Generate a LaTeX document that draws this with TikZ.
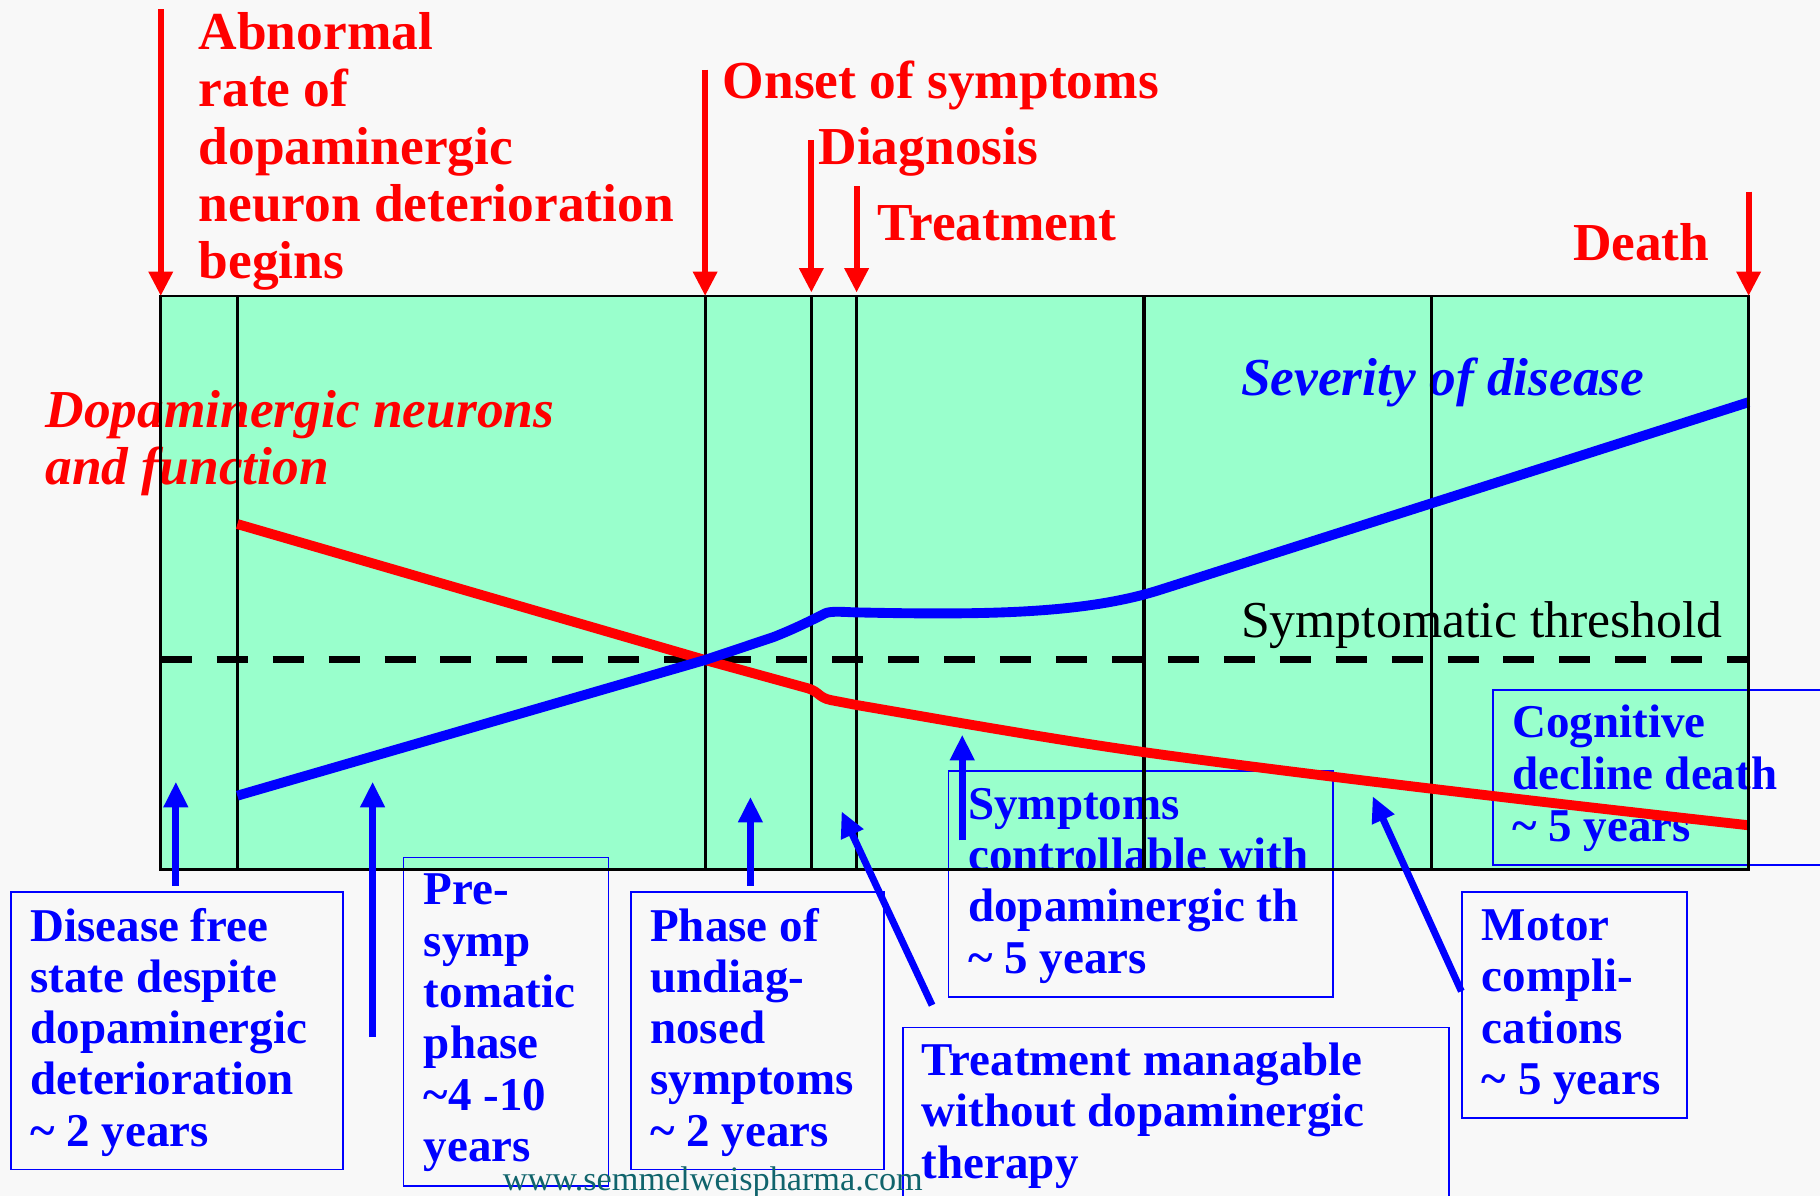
\documentclass[tikz,border=0pt]{standalone}
\usepackage{fontspec}
\setmainfont{Liberation Serif}
\usetikzlibrary{arrows.meta}
\definecolor{chartgreen}{RGB}{153,255,204}
\definecolor{wmteal}{RGB}{16,100,108}
\definecolor{pagebg}{RGB}{248,248,248}
\begin{document}
\begin{tikzpicture}[x=1pt,y=-1pt,
  redlbl/.style={text=red, font=\bfseries\fontsize{46}{49.3}\selectfont, align=left, anchor=base west, inner sep=0pt},
  bluelbl/.style={text=blue, font=\bfseries\fontsize{40.5}{44.2}\selectfont, align=left, anchor=base west, inner sep=0pt},
  bluebox/.style={draw=blue, line width=1.4pt, inner sep=0pt, anchor=north west},
  redarrow/.style={draw=red, line width=5pt, -{Triangle[width=20pt,length=21pt]}},
  bluearrow/.style={draw=blue, line width=6pt, -{Triangle[width=20pt,length=22pt]}},
  divider/.style={line width=2.8pt},
  curve/.style={line width=8.5pt}
]
\useasboundingbox[fill=pagebg] (0,0) rectangle (1568,1030);

% chart area
\fill[chartgreen] (138.5,255) rectangle (1506.5,749);

% boxes and their texts (node placed at baseline of the last line)
\node[bluebox, minimum width=286pt, minimum height=239pt] (b1) at (9,768) {};
\node[bluelbl] (t1) at (26,987.5) {Disease free\\state despite\\dopaminergic\\deterioration\\\textasciitilde\ 2 years};
\node[bluebox, minimum width=176.5pt, minimum height=283pt] (b2) at (347,738) {};
\node[bluelbl] (t2) at (365,1000.5) {Pre-\\symp\\tomatic\\phase\\\textasciitilde 4 -10\\years};
\node[bluebox, minimum width=218pt, minimum height=239pt] (b3) at (543,768) {};
\node[bluelbl] (t3) at (560,987.5) {Phase of\\undiag-\\nosed\\symptoms\\\textasciitilde\ 2 years};
\node[bluebox, minimum width=331pt, minimum height=195pt] (b4) at (816.5,663.4) {};
\node[bluelbl] (t4) at (834,838.5) {Symptoms\\controllable with\\dopaminergic th\\\textasciitilde\ 5 years};
\node[bluebox, minimum width=470.5pt, minimum height=170pt] (b5) at (777,884.6) {};
\node[bluelbl] (t5) at (794,1015) {Treatment managable\\without dopaminergic\\therapy};
\node[bluebox, minimum width=193.6pt, minimum height=194.5pt] (b6) at (1259,767.8) {};
\node[bluelbl] (t6) at (1276.5,943) {Motor\\compli-\\cations\\\textasciitilde\ 5 years};
\node[bluebox, minimum width=300pt, minimum height=150.6pt] (b7) at (1285.6,594) {};
\node[bluelbl, font=\bfseries\fontsize{40.5}{45}\selectfont] (t7) at (1302.6,725) {Cognitive\\decline death\\\textasciitilde\ 5 years};

% red labels
\node[redlbl] (abn) at (171,240) {Abnormal\\rate of\\dopaminergic\\neuron deterioration\\begins};
\node[redlbl] (onset) at (622.5,85) {Onset of symptoms};
\node[redlbl] (diag) at (705,142) {Diagnosis};
\node[redlbl] (treat) at (756,207) {Treatment};
\node[redlbl] (death) at (1355,224.5) {Death};
\node[redlbl, font=\bfseries\itshape\fontsize{46}{48.4}\selectfont] (dopa) at (39,417) {Dopaminergic neurons\\and function};
\node[redlbl, text=blue, font=\bfseries\itshape\fontsize{46}{49}\selectfont] (sev) at (1069,340.5) {Severity of disease};
\node[anchor=base west, inner sep=0pt, font=\fontsize{44.6}{48}\selectfont] (thr) at (1069,549) {Symptomatic threshold};

% dividers
\foreach \xx in {204.5,607.5,699,738,985.5,1233}
  \draw[divider] (\xx,255) -- (\xx,749);
% threshold
\draw[line width=6pt, dash pattern=on 26.7pt off 21.5pt] (138.5,567.8) -- (1506.5,567.8);

% curves
\draw[curve, red, line join=round] (204.5,451.5) -- (607.4,568.6) -- (696,593)
  .. controls (706,596) and (705,601) .. (716,603.2) -- (738,607.4)
  .. controls (800,618) and (900,636) .. (985.5,648)
  .. controls (1100,664) and (1300,688) .. (1506.5,711);
\draw[curve, blue, line join=round] (204.5,685.5) -- (607.4,568.6) -- (666,549)
  .. controls (684,542) and (700,534) .. (711,528.4)
  .. controls (716,526) and (730,527.5) .. (738,527.6)
  .. controls (850,530) and (935,528.8) .. (1000,508) -- (1506.5,346.5);

% chart frame
\draw[line width=2.2pt] (138.5,255) rectangle (1506.5,749);

% red arrows
\coordinate (ra1) at (138.5,8); \coordinate (ra1e) at (138.5,255);
\coordinate (ra2) at (607.5,60); \coordinate (ra2e) at (607.5,255);
\coordinate (ra3) at (699,121); \coordinate (ra3e) at (699,252);
\coordinate (ra4) at (738,160.5); \coordinate (ra4e) at (738,252);
\coordinate (ra5) at (1506.5,165); \coordinate (ra5e) at (1506.5,255);
\draw[redarrow] (ra1) -- (ra1e);
\draw[redarrow] (ra2) -- (ra2e);
\draw[redarrow] (ra3) -- (ra3e);
\draw[redarrow] (ra4) -- (ra4e);
\draw[redarrow] (ra5) -- (ra5e);

% blue arrows
\coordinate (ba1) at (151.5,763); \coordinate (ba1e) at (151.5,673.5);
\coordinate (ba2) at (321,893.5); \coordinate (ba2e) at (321,673.5);
\coordinate (ba3) at (646.5,763); \coordinate (ba3e) at (646.5,686.5);
\coordinate (ba4) at (803,866); \coordinate (ba4e) at (725,699);
\coordinate (ba5) at (829,724); \coordinate (ba5e) at (829,633);
\coordinate (ba6) at (1259,854); \coordinate (ba6e) at (1182.6,686);
\draw[bluearrow] (ba1) -- (ba1e);
\draw[bluearrow] (ba2) -- (ba2e);
\draw[bluearrow] (ba3) -- (ba3e);
\draw[bluearrow] (ba4) -- (ba4e);
\draw[bluearrow] (ba5) -- (ba5e);
\draw[bluearrow] (ba6) -- (ba6e);

% watermark
\node[anchor=base west, inner sep=0pt, text=wmteal, font=\fontsize{29.5}{32}\selectfont] (wm) at (433,1026) {www.semmelweispharma.com};
\end{tikzpicture}
\end{document}
